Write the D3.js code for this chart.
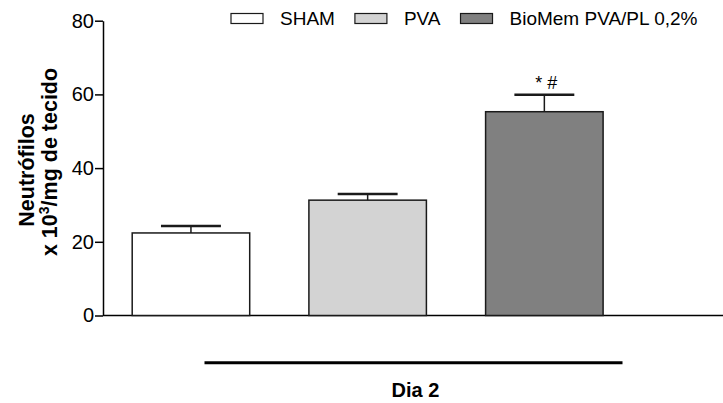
<!DOCTYPE html>
<html>
<head>
<meta charset="utf-8">
<script src="https://cdn.jsdelivr.net/npm/d3@7"></script>
<style>
  html, body { margin: 0; padding: 0; background: #fff; }
  svg { display: block; font-family: "Liberation Sans", Arial, sans-serif; }
</style>
</head>
<body>
<svg id="chart" width="723" height="403"></svg>
<script>
// Neutrophil counts (x10^3 / mg tissue) on day 2, mean ± SEM
const groups = ["SHAM", "PVA", "BioMem PVA/PL 0,2%"];
const means = [22.4, 31.3, 55.3];
const sems = [1.9, 1.7, 4.6];
const fills = ["#ffffff", "#d3d3d3", "#808080"];
const marks = ["", "", "* #"];
const yTicks = [0, 20, 40, 60, 80];
const groupLabel = "Dia 2";

const svg = d3.select("#chart");
const axisX = 103, plotTop = 20.7, plotBottom = 315.5, plotRight = 723;

const y = d3.scaleLinear().domain([0, 80]).range([plotBottom, plotTop]);
const x = d3.scaleBand().domain(groups).range([102.6, 632.7])
  .paddingInner(0.335).paddingOuter(0.335 / 2);

// Y axis
const yAxis = d3.axisLeft(y).tickValues(yTicks).tickSize(8).tickPadding(1).tickSizeOuter(0);
const gy = svg.append("g").attr("transform", `translate(${axisX},0)`).call(yAxis);
gy.select(".domain").attr("stroke", "#000").attr("stroke-width", 1.5);
gy.selectAll(".tick line").attr("stroke", "#000").attr("stroke-width", 1.5);
gy.selectAll(".tick text").attr("fill", "#000").attr("font-size", 20)
  .attr("font-family", "Liberation Sans, Arial, sans-serif");

// X baseline
svg.append("line").attr("x1", axisX).attr("x2", plotRight)
  .attr("y1", y(0)).attr("y2", y(0)).attr("stroke", "#000").attr("stroke-width", 1.5);

// Bars
svg.selectAll("rect.bar").data(groups).join("rect").attr("class", "bar")
  .attr("x", d => x(d)).attr("width", x.bandwidth())
  .attr("y", (d, i) => y(means[i])).attr("height", (d, i) => y(0) - y(means[i]))
  .attr("fill", (d, i) => fills[i]).attr("stroke", "#1a1a1a").attr("stroke-width", 1.5);

// Error bars (upper only)
const capHalf = x.bandwidth() * 0.255;
groups.forEach((g, i) => {
  const cx = x(g) + x.bandwidth() / 2;
  svg.append("line").attr("x1", cx).attr("x2", cx)
    .attr("y1", y(means[i])).attr("y2", y(means[i] + sems[i]))
    .attr("stroke", "#1a1a1a").attr("stroke-width", 1.5);
  svg.append("line").attr("x1", cx - capHalf).attr("x2", cx + capHalf)
    .attr("y1", y(means[i] + sems[i])).attr("y2", y(means[i] + sems[i]))
    .attr("stroke", "#1a1a1a").attr("stroke-width", 2.5);
  if (marks[i]) {
    svg.append("text").attr("x", cx + 2).attr("y", y(means[i] + sems[i]) - 6)
      .attr("text-anchor", "middle").attr("font-size", 18).attr("fill", "#000")
      .text(marks[i]);
  }
});

// Y axis title
const yTitle = svg.append("g").attr("font-weight", "bold").attr("font-size", 21.5).attr("fill", "#000");
yTitle.append("text").attr("transform", "translate(34,170) rotate(-90)")
  .attr("text-anchor", "middle").text("Neutrófilos");
const t2 = yTitle.append("text").attr("transform", "translate(56.5,162) rotate(-90)")
  .attr("text-anchor", "middle");
t2.append("tspan").text("x 10");
t2.append("tspan").attr("font-size", 14).attr("dy", -8).text("3");
t2.append("tspan").attr("dy", 8).text("/mg de tecido");

// Group bracket and label
svg.append("line").attr("x1", 204.5).attr("x2", 622.5).attr("y1", 362.7).attr("y2", 362.7)
  .attr("stroke", "#000").attr("stroke-width", 3);
svg.append("text").attr("x", 415.5).attr("y", 396.5).attr("text-anchor", "middle")
  .attr("font-weight", "bold").attr("font-size", 20).attr("fill", "#000").text(groupLabel);

// Legend
const legend = svg.append("g").attr("transform", "translate(231,0)");
let lx = 0;
groups.forEach((g, i) => {
  legend.append("rect").attr("x", lx).attr("y", 13.5).attr("width", 32).attr("height", 10)
    .attr("fill", fills[i]).attr("stroke", "#1a1a1a").attr("stroke-width", 1.2);
  const t = legend.append("text").attr("x", lx + 49).attr("y", 25.3).attr("font-size", 19)
    .attr("fill", "#000").text(g);
  lx += 49 + t.node().getComputedTextLength() + 20;
});
</script>
</body>
</html>
